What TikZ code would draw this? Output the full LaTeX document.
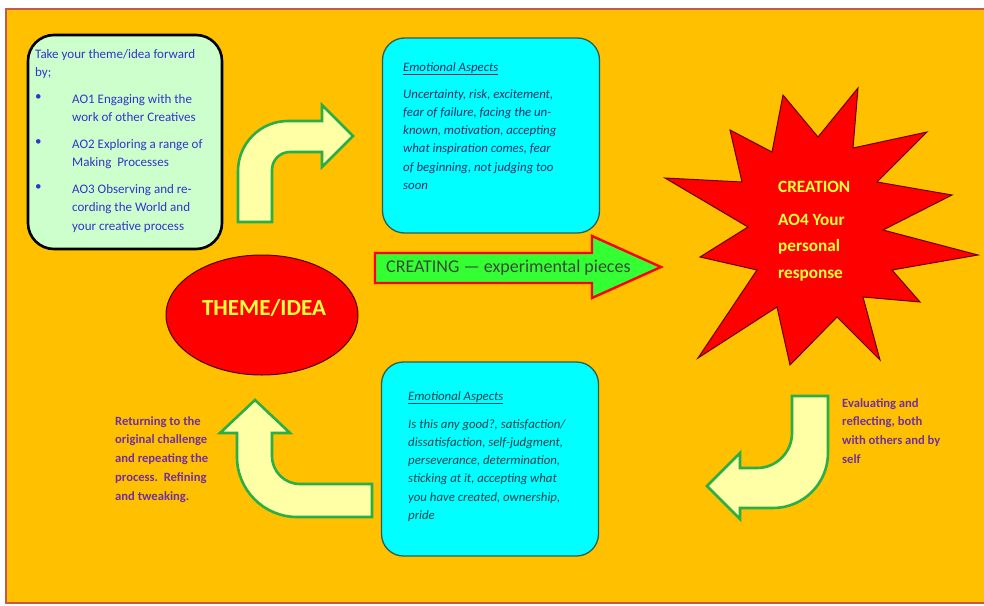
\documentclass[tikz,border=0pt]{standalone}
\usepackage{fontspec}
\setmainfont{Carlito}
\usetikzlibrary{shapes.geometric}
\definecolor{bgorange}{HTML}{FFC000}
\definecolor{framered}{HTML}{C55A4A}
\definecolor{leftfill}{HTML}{CCFFCC}
\definecolor{cyanfill}{HTML}{00FFFF}
\definecolor{cyanline}{HTML}{2F5F4F}
\definecolor{emtext}{HTML}{1A3068}
\definecolor{emtexttwo}{HTML}{1A4050}
\definecolor{arrowfill}{HTML}{FFFFA6}
\definecolor{arrowline}{HTML}{2AAE48}
\definecolor{purpletext}{HTML}{7030A0}
\definecolor{bluetext}{HTML}{3333CC}
\definecolor{startext}{HTML}{FFFF40}
\definecolor{greenfill}{HTML}{33FF33}
\definecolor{creatingtext}{HTML}{3A4A3A}
\begin{document}
\begin{tikzpicture}[x=1pt,y=-1pt,
  bentarrow/.style={fill=arrowfill, draw=arrowline, line width=2.6pt, line join=miter},
  cyanbox/.style={fill=cyanfill, draw=cyanline, line width=1.3pt, rounded corners=22pt,
    minimum width=217pt, inner sep=0pt},
  blocktext/.style={anchor=north west, inner sep=0pt, align=left},
  emhead/.style={blocktext, font=\fontsize{12.8}{18.3}\selectfont\itshape},
  embody/.style={blocktext, font=\fontsize{12.8}{18.3}\selectfont\itshape},
  lefttext/.style={blocktext, text=bluetext, font=\fontsize{13}{18.4}\selectfont},
  purpletxt/.style={blocktext, text=purpletext, font=\fontsize{12.6}{18.8}\selectfont\bfseries},
  startxt/.style={inner sep=0pt, text=startext, font=\fontsize{17.2}{26.5}\selectfont\bfseries, align=left}
]
\useasboundingbox (0,0) rectangle (984,605);
\fill[white] (0,0) rectangle (984,605);
\begin{scope}
\clip (0,0) rectangle (984,605);
\draw[fill=bgorange, draw=framered, line width=2.5pt] (6,9) rectangle (1000,603);
\end{scope}

% left box
\node[fill=leftfill, draw=black, line width=2.6pt, rounded corners=26pt,
      minimum width=194pt, minimum height=214pt, inner sep=0pt] (lbox) at (125,142) {};
\node[lefttext] (lintro) at (35,49) {Take your theme/idea forward\\by;};
\node[lefttext] (lb1) at (35,94) {•};
\node[lefttext] (li1) at (72,94) {AO1 Engaging with the\\work of other Creatives};
\node[lefttext] (lb2) at (35,139) {•};
\node[lefttext] (li2) at (72,139) {AO2 Exploring a range of\\Making\ \ Processes};
\node[lefttext] (lb3) at (35,184) {•};
\node[lefttext] (li3) at (72,184) {AO3 Observing and re-\\cording the World and\\your creative process};

% top cyan box
\node[cyanbox, minimum height=195pt] (topbox) at (491,135.5) {};
\node[emhead, text=emtext] (tophead) at (403,62) {\underline{Emotional Aspects}};
\node[embody, text=emtext] (topbody) at (403,89) {Uncertainty, risk, excitement,\\fear of failure, facing the un-\\known, motivation, accepting\\what inspiration comes, fear\\of beginning, not judging too\\soon};

% bottom cyan box
\node[cyanbox, minimum height=194pt] (botbox) at (490,459) {};
\node[emhead, text=emtexttwo] (bothead) at (408,391) {\underline{Emotional Aspects}};
\node[embody, text=emtexttwo] (botbody) at (408,419) {Is this any good?, satisfaction/\\dissatisfaction, self-judgment,\\perseverance, determination,\\sticking at it, accepting what\\you have created, ownership,\\pride};

% theme ellipse
\node[ellipse, fill=red, draw=black!70!red, line width=1pt, minimum width=192pt,
      minimum height=120pt, inner sep=0pt] (theme) at (262,315) {};
\node[inner sep=0pt, text=startext, font=\fontsize{23}{26}\selectfont\bfseries] (themetext) at (264,308) {THEME/IDEA};

% creating arrow
\draw[fill=greenfill, draw=red, line width=2.4pt, line join=miter]
  (375,253) -- (592,253) -- (592,236) -- (661,267) -- (592,298) -- (592,283) -- (375,283) -- cycle;
\node[anchor=west, inner sep=0pt, text=creatingtext, font=\fontsize{18}{20}\selectfont] (creating) at (386,268) {CREATING — experimental pieces};

% star
\draw[fill=red, draw=black!60!red, line width=1pt, line join=miter]
  (783,95) -- (818,137) -- (858,88) -- (853,148) -- (927,132) -- (877,182) -- (952,195)
  -- (883,230) -- (978,255) -- (892,270) -- (920,302) -- (863,297) -- (880,360)
  -- (837,317) -- (790,365) -- (777,307) -- (698,358) -- (757,270) -- (700,257)
  -- (748,227) -- (665,178) -- (742,182) -- (730,130) -- (772,152) -- cycle;
\node[startxt, anchor=west] (creation) at (778,187) {CREATION};
\node[startxt, anchor=north west] (ao4) at (778,214) {AO4 Your\\personal\\response};

% top bent arrow (up then right)
\draw[bentarrow] (238,222) -- (238,171) .. controls (238,143.4) and (260.4,121) .. (288,121)
  -- (322,121) -- (322,105) -- (353,136) -- (322,167) -- (322,152) -- (290,152)
  .. controls (280,152) and (272,160) .. (272,170) -- (272,222) -- cycle;

% bottom-left bent arrow (right then up)
\draw[bentarrow] (255,400) -- (290,433) -- (272,433) -- (272,456)
  .. controls (272,471.5) and (284.5,484) .. (300,484) -- (372,484) -- (372,517)
  -- (297,517) .. controls (264,517) and (237,490) .. (237,457) -- (237,433) -- (220,433) -- cycle;

% right bent arrow (down then left)
\draw[bentarrow] (792,396) -- (828,396) -- (828,453) .. controls (828,483.4) and (803.4,508) .. (773,508)
  -- (740,508) -- (740,519) -- (707,486) -- (740,453) -- (740,468) -- (757,468)
  .. controls (776.3,468) and (792,452.3) .. (792,433) -- cycle;

% side texts
\node[purpletxt] (evaltext) at (842,398) {Evaluating and\\reflecting, both\\with others and by\\self};
\node[purpletxt] (returntext) at (115,416) {Returning to the\\original challenge\\and repeating the\\process.\ \ Refining\\and tweaking.};
\end{tikzpicture}
\end{document}
